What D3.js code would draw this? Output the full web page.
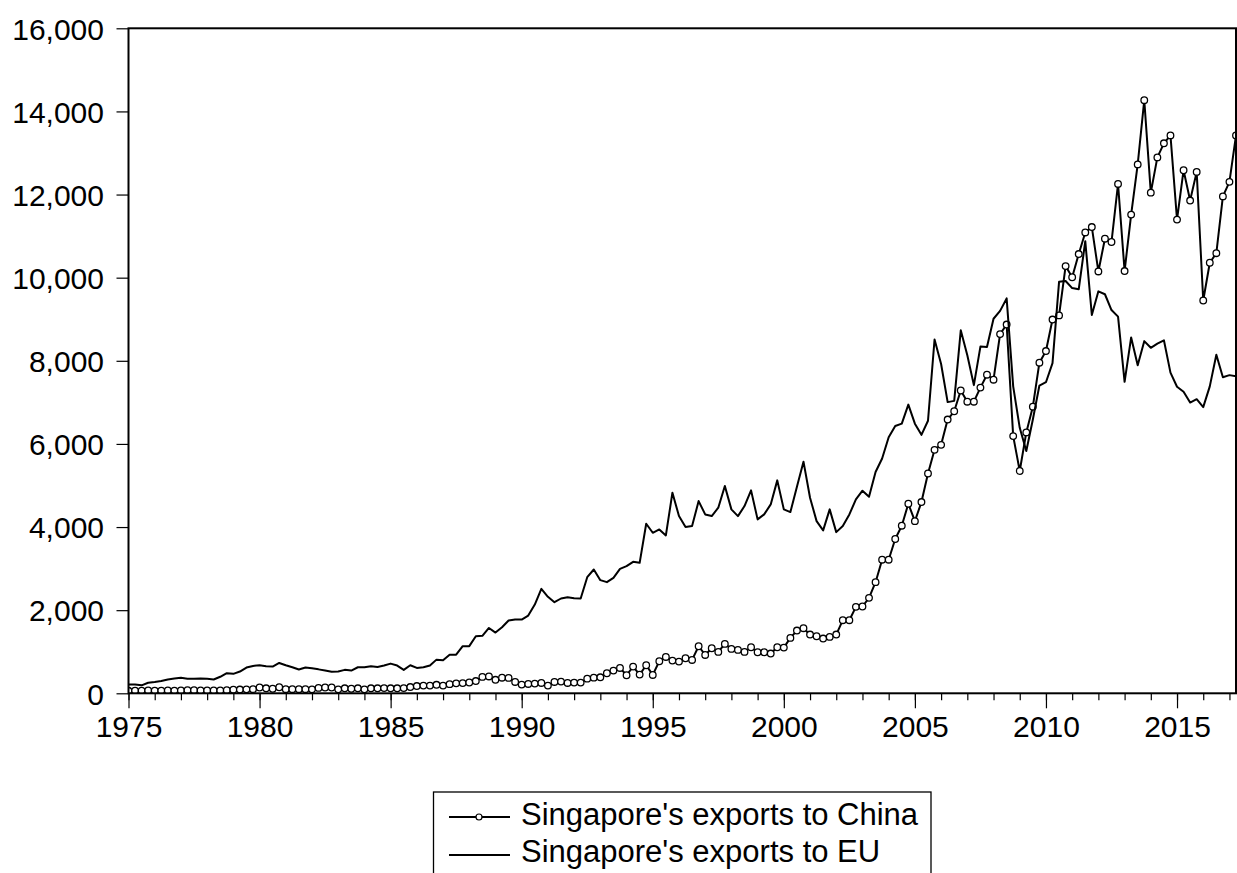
<!DOCTYPE html>
<html><head><meta charset="utf-8">
<script src="https://cdn.jsdelivr.net/npm/d3@7"></script>
<style>body{margin:0;background:#fff}svg{display:block}text{font-family:Arial,"Liberation Sans",sans-serif;fill:#000}</style>
</head><body><svg id="c" width="1237" height="873"></svg>
<script>
// Quarterly data, 1975Q1 .. 2017Q2
const startYear = 1975;
const china = [
60,65,65,70,65,65,70,65,70,75,
75,70,70,70,70,75,85,90,95,100,
140,120,110,145,100,100,100,100,95,130,
140,140,95,120,110,120,95,120,120,125,
120,120,125,150,175,185,185,205,185,220,
240,245,260,295,395,405,325,375,370,273,
209,225,233,249,185,273,281,249,257,257,
353,377,385,482,546,610,434,642,450,675,
442,771,875,787,763,843,803,1132,923,1084,
996,1188,1068,1044,996,1108,988,988,956,1108,
1100,1333,1510,1566,1413,1373,1317,1357,1413,1759,
1759,2080,2088,2297,2674,3214,3214,3713,4032,4561,
4142,4601,5289,5858,5978,6587,6786,7285,7016,7016,
7355,7665,7545,8643,8872,6188,5349,6277,6896,7954,
8234,8992,9092,10279,10010,10569,11088,11218,10150,10938,
10858,12255,10160,11517,12725,14271,12046,12894,13233,13423,
11397,12585,11856,12545,9451,10359,10589,11956,12305,13423
];
const eu = [
214,214,191,254,270,294,333,357,373,349,
349,357,349,333,397,484,468,524,619,659,
675,651,643,730,675,627,572,619,600,576,
548,516,524,564,548,627,627,651,635,667,
715,667,564,675,611,627,667,810,794,929,
929,1135,1135,1374,1382,1572,1461,1588,1750,1775,
1775,1871,2136,2513,2321,2192,2281,2313,2289,2281,
2794,2979,2722,2674,2778,2995,3059,3164,3140,4079,
3862,3943,3798,4826,4264,3999,4023,4625,4304,4264,
4465,4987,4425,4264,4505,4882,4184,4304,4545,5123,
4425,4360,4971,5573,4706,4143,3919,4425,3878,4023,
4304,4665,4874,4730,5324,5650,6160,6430,6487,6946,
6487,6218,6557,8513,7924,7006,7036,8733,8134,7415,
8343,8333,9012,9202,9501,7385,6387,5828,6587,7405,
7485,7944,9900,9920,9750,9720,10878,9102,9671,9601,
9222,9062,7495,8563,7894,8473,8313,8413,8493,7715,
7375,7255,6996,7076,6886,7385,8144,7605,7655,7625
];
const yTicks = [0,2000,4000,6000,8000,10000,12000,14000,16000];
const xLabelYears = [1975,1980,1985,1990,1995,2000,2005,2010,2015];
const minorYears = d3.range(1975, 2018);
const legendLabels = ["Singapore's exports to China", "Singapore's exports to EU"];

const svg = d3.select('#c');
const L = 128.5, R = 1236, T = 28.3, B = 693.3;
const x = d3.scaleLinear().domain([1975, 2017.25]).range([L, R]);
const y = d3.scaleLinear().domain([0, 16000]).range([B, T]);
const tOf = i => startYear + i / 4;
const FONT = 'Arial, "Liberation Sans", sans-serif';

svg.append('defs').append('clipPath').attr('id', 'clip')
  .append('rect').attr('x', L).attr('y', T).attr('width', R - L).attr('height', B - T);

// y axis
const ya = svg.append('g').attr('transform', `translate(${L},0)`)
  .call(d3.axisLeft(y).tickValues(yTicks).tickSize(12).tickPadding(12.5).tickFormat(d3.format(',')));
ya.select('.domain').remove();
ya.selectAll('line').attr('stroke', '#000').attr('stroke-width', 1.2);
ya.selectAll('text').attr('font-size', 30).attr('fill', '#000').attr('dy', '0.36em')
  .style('font-family', FONT);

// x axis minor ticks
const xm = svg.append('g').attr('transform', `translate(0,${B})`)
  .call(d3.axisBottom(x).tickValues(minorYears).tickSize(7).tickFormat(''));
xm.select('.domain').remove();
xm.selectAll('line').attr('stroke', '#000').attr('stroke-width', 1.2);
// x axis major ticks
const xa = svg.append('g').attr('transform', `translate(0,${B})`)
  .call(d3.axisBottom(x).tickValues(xLabelYears).tickSize(15).tickPadding(7).tickFormat(d3.format('d')));
xa.select('.domain').remove();
xa.selectAll('line').attr('stroke', '#000').attr('stroke-width', 1.2);
xa.selectAll('text').attr('font-size', 30).attr('fill', '#000')
  .style('font-family', FONT);

// series
const plot = svg.append('g').attr('clip-path', 'url(#clip)');
const line = d3.line().x((d, i) => x(tOf(i))).y(d => y(d));
plot.append('path').datum(china).attr('d', line)
  .attr('fill', 'none').attr('stroke', '#000').attr('stroke-width', 2).attr('stroke-linejoin', 'round');
plot.selectAll('circle.cn').data(china).enter().append('circle').attr('class', 'cn')
  .attr('cx', (d, i) => x(tOf(i))).attr('cy', d => y(d)).attr('r', 3.3)
  .attr('fill', '#fff').attr('stroke', '#000').attr('stroke-width', 1.3);
plot.append('path').datum(eu).attr('d', line)
  .attr('fill', 'none').attr('stroke', '#000').attr('stroke-width', 2).attr('stroke-linejoin', 'round');

// frame
svg.append('rect').attr('x', L).attr('y', T).attr('width', R - L).attr('height', B - T)
  .attr('fill', 'none').attr('stroke', '#000').attr('stroke-width', 2);

// legend
const lg = svg.append('g');
lg.append('rect').attr('x', 433.5).attr('y', 792).attr('width', 497.5).attr('height', 140)
  .attr('fill', '#fff').attr('stroke', '#000').attr('stroke-width', 1.3);
const rows = [{ly: 817, ty: 825, marker: true}, {ly: 855, ty: 862, marker: false}];
rows.forEach((r, k) => {
  lg.append('line').attr('x1', 449).attr('x2', 510).attr('y1', r.ly).attr('y2', r.ly)
    .attr('stroke', '#000').attr('stroke-width', 2);
  if (r.marker) lg.append('circle').attr('cx', 479).attr('cy', r.ly).attr('r', 3)
    .attr('fill', '#fff').attr('stroke', '#000').attr('stroke-width', 1.2);
  lg.append('text').attr('x', 521).attr('y', r.ty).attr('font-size', 31).text(legendLabels[k]);
});
</script></body></html>
